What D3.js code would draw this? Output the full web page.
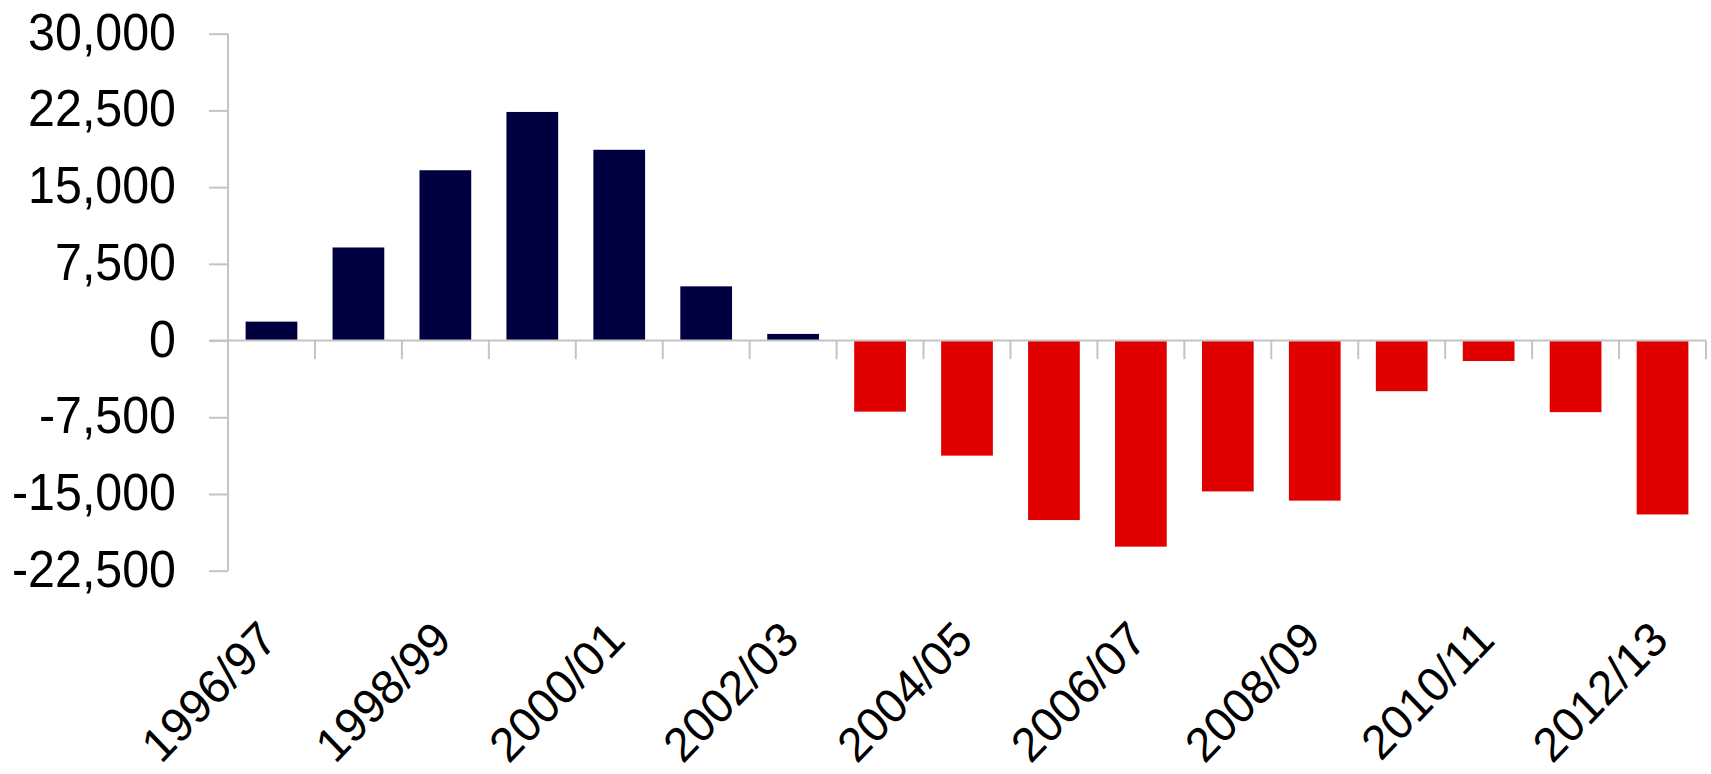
<!DOCTYPE html>
<html>
<head>
<meta charset="utf-8">
<script src="https://cdn.jsdelivr.net/npm/d3@7"></script>
<style>
  html, body { margin: 0; padding: 0; background: #ffffff; }
  svg { display: block; }
  text { font-family: "Liberation Sans", Arial, sans-serif; fill: #000; }
</style>
</head>
<body>
<svg id="chart" width="1711" height="774"></svg>
<script>
const categories = ["1996/97","1997/98","1998/99","1999/00","2000/01","2001/02","2002/03","2003/04","2004/05","2005/06","2006/07","2007/08","2008/09","2009/10","2010/11","2011/12","2012/13"];
const values = [1850, 9100, 16650, 22350, 18650, 5300, 650, -6950, -11250, -17550, -20150, -14750, -15650, -4950, -2000, -7000, -17000];
const yTicks = [30000, 22500, 15000, 7500, 0, -7500, -15000, -22500];
const xLabelEvery = 2;
const colorPositive = "#000040";
const colorNegative = "#e00000";

(function () {
const svg = d3.select("#chart");
const pLeft = 228, pRight = 1706, pTop = 33.7, pBottom = 570.7;

const x = d3.scaleBand().domain(categories).range([pLeft, pRight]).paddingInner(0.405).paddingOuter(0.2025);
const y = d3.scaleLinear().domain([-22500, 30000]).range([pBottom, pTop]);
const y0 = y(0);
const step = x.step();
const axisColor = "#c4c4c4";

// bars
svg.append("g").selectAll("rect").data(values).join("rect")
  .attr("x", (d, i) => x(categories[i]))
  .attr("width", x.bandwidth())
  .attr("y", d => d >= 0 ? y(d) : y0)
  .attr("height", d => Math.abs(y(d) - y0))
  .attr("fill", d => d >= 0 ? colorPositive : colorNegative);

// y axis
const yAxis = svg.append("g").attr("transform", `translate(${pLeft},0)`)
  .call(d3.axisLeft(y).tickValues(yTicks).tickSize(19).tickFormat(""));
yAxis.select(".domain").attr("d", `M0,${pTop}V${pBottom}`).attr("stroke", axisColor).attr("stroke-width", 2);
yAxis.selectAll(".tick line").attr("stroke", axisColor).attr("stroke-width", 2);

// y labels (hyphen-minus as in the source)
const fmt = v => d3.format(",")(v).replace("\u2212", "-");
svg.append("g").selectAll("text").data(yTicks).join("text")
  .attr("transform", d => `translate(176,${y(d) + 16}) scale(0.93,1)`)
  .attr("text-anchor", "end")
  .style("font-size", "52px")
  .text(fmt);

// x axis at zero
const xAxis = svg.append("g").attr("transform", `translate(0,${y0})`)
  .call(d3.axisBottom(x).tickSize(0).tickFormat(""));
xAxis.select(".domain").attr("d", `M${pLeft - 19},0H${pRight}`).attr("stroke", axisColor).attr("stroke-width", 2);
xAxis.selectAll(".tick").remove();
const bounds = d3.range(1, categories.length + 1).map(k => pLeft + k * step);
xAxis.selectAll("line.bt").data(bounds).join("line").attr("class", "bt")
  .attr("x1", d => d).attr("x2", d => d).attr("y1", 0).attr("y2", 18.6)
  .attr("stroke", axisColor).attr("stroke-width", 2);

// x labels
const labelCats = categories.filter((c, i) => i % xLabelEvery === 0);
svg.append("g").selectAll("text").data(labelCats).join("text")
  .attr("transform", d => `translate(${x(d) + x.bandwidth() / 2 + 8},642) scale(0.965,1) rotate(-45)`)
  .attr("text-anchor", "end")
  .style("font-size", "48px")
  .text(d => d);
})();
</script>
</body>
</html>
